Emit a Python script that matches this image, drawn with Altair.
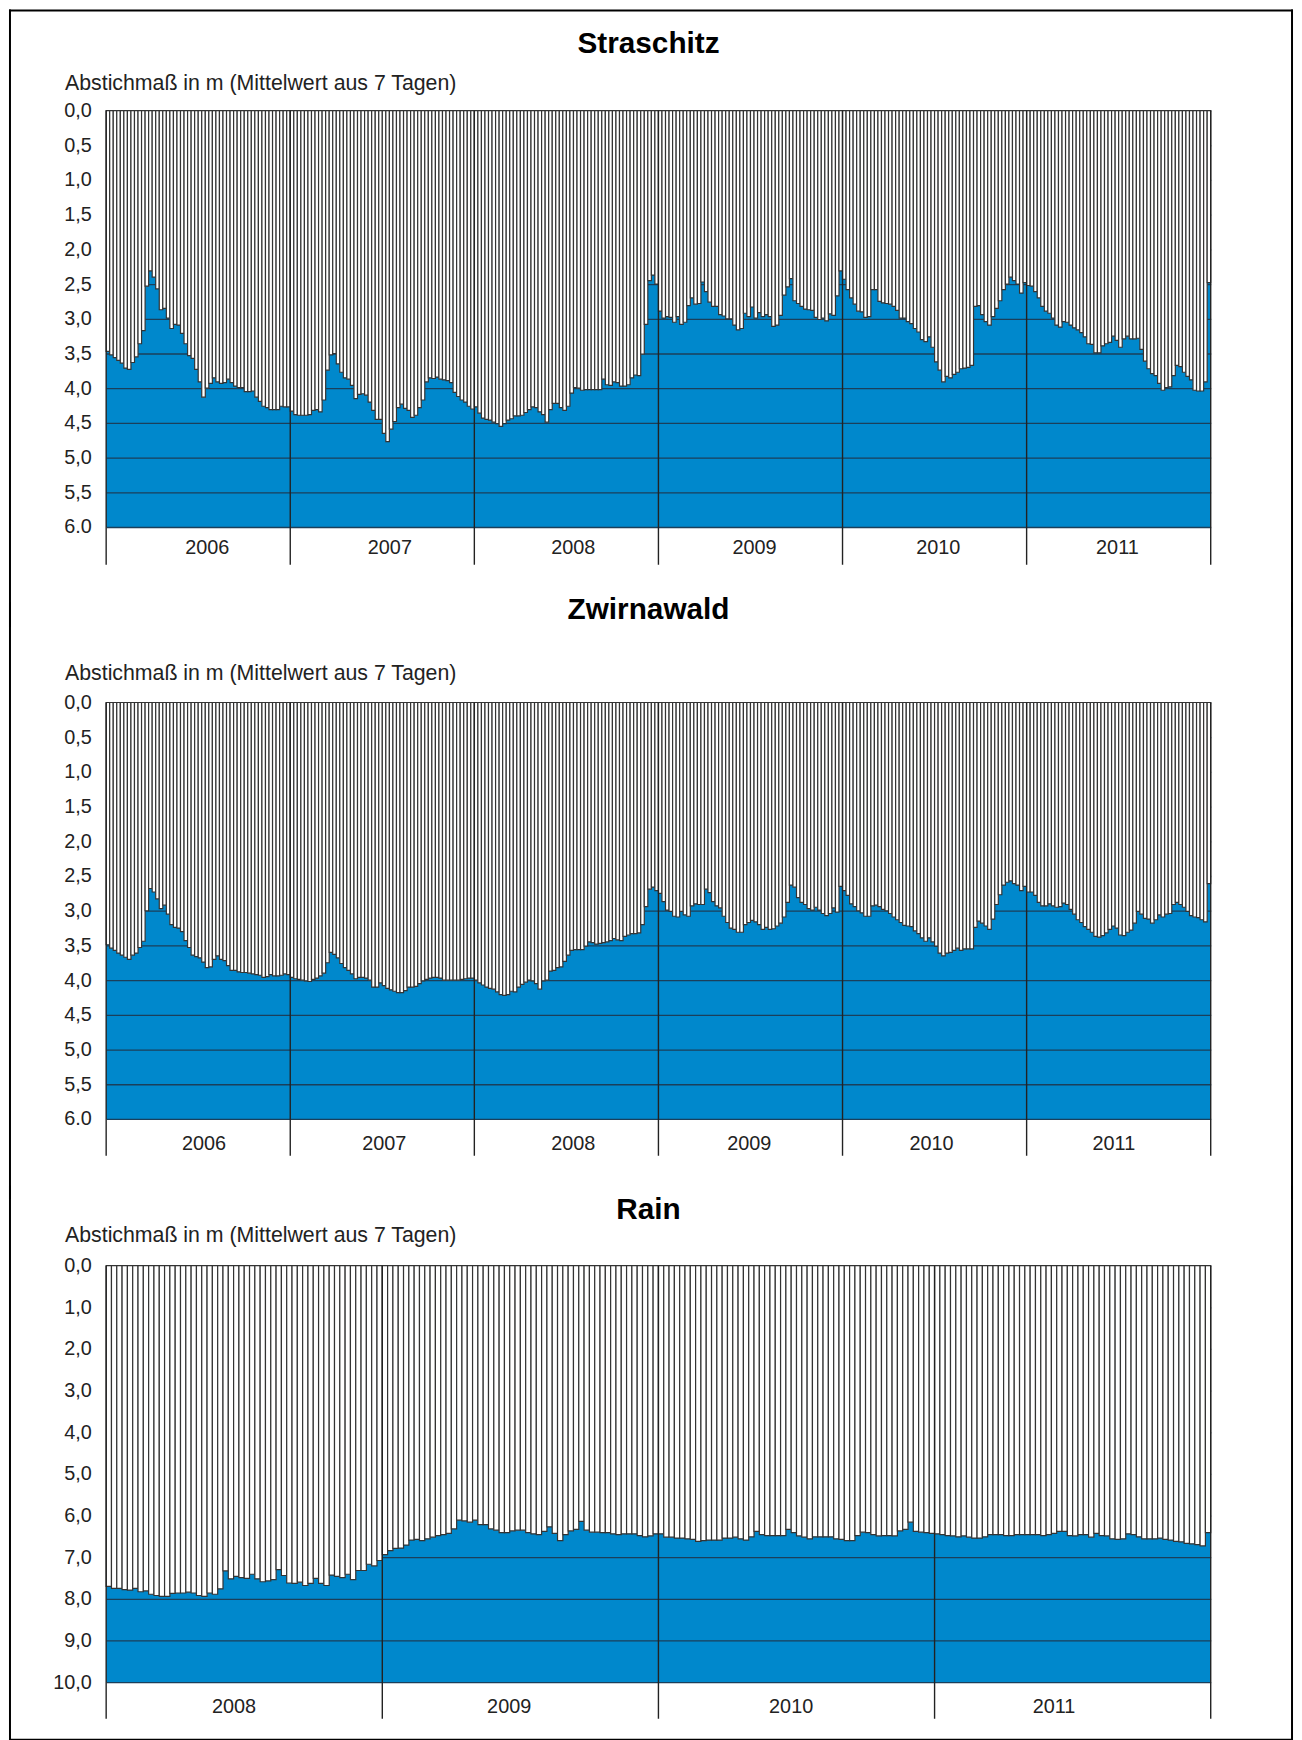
import altair as alt
import pandas as pd

BLUE = "#0088cc"
FONT = "Liberation Sans"
TEXT = "#222222"
Y_TITLE = "Abstichmaß in m (Mittelwert aus 7 Tagen)"

# ---------------- Straschitz (weekly means, m) ----------------
stra_2006 = [3.47,3.52,3.56,3.60,3.64,3.71,3.73,3.63,3.55,3.36, 3.17,2.53,2.31,2.40,2.57,2.87,2.85,2.99,3.14,3.08,
             3.09,3.21,3.36,3.53,3.57,3.73,3.91,4.13,4.00,3.93, 3.85,3.91,3.93,3.92,3.87,3.92,3.97,3.99,3.99,4.05,
             4.05,4.04,4.13,4.19,4.26,4.28,4.31,4.31,4.31,4.26, 4.27,4.27]
stra_2007 = [4.33,4.38,4.39,4.39,4.39,4.38,4.32,4.31,4.34,4.17, 3.74,3.52,3.50,3.65,3.77,3.85,3.87,3.96,4.15,4.09,
             4.08,4.10,4.20,4.32,4.45,4.45,4.65,4.77,4.59,4.48, 4.28,4.23,4.29,4.32,4.42,4.39,4.28,4.17,3.91,3.85,
             3.86,3.84,3.87,3.88,3.89,3.92,4.06,4.12,4.17,4.20, 4.26,4.30]
stra_2008 = [4.27,4.36,4.43,4.45,4.46,4.49,4.51,4.55,4.51,4.46, 4.44,4.40,4.40,4.39,4.35,4.31,4.27,4.28,4.34,4.38,
             4.49,4.31,4.22,4.22,4.28,4.32,4.26,4.07,3.99,4.00, 4.03,4.02,4.02,4.02,4.02,4.02,3.87,3.95,3.96,3.91,
             3.92,3.97,3.97,3.95,3.85,3.81,3.82,3.51,3.08,2.45, 2.37,2.50]
stra_2009 = [2.89,2.99,2.97,2.98,3.05,2.97,3.08,3.05,2.81,2.70, 2.79,2.78,2.47,2.61,2.76,2.82,2.82,2.94,2.96,3.00,
             3.00,3.09,3.16,3.14,2.92,2.97,2.83,2.99,2.91,2.97, 2.94,2.97,3.11,3.09,2.95,2.66,2.54,2.42,2.74,2.78,
             2.82,2.86,2.87,2.88,2.98,3.01,2.99,3.03,2.93,2.95, 2.67,2.31]
stra_2010 = [2.43,2.58,2.70,2.79,2.89,2.90,2.98,2.97,2.58,2.58, 2.75,2.77,2.78,2.79,2.82,2.88,2.99,2.99,3.04,3.07,
             3.14,3.19,3.30,3.33,3.26,3.41,3.62,3.74,3.91,3.83, 3.85,3.80,3.77,3.72,3.71,3.70,3.67,2.82,2.81,2.94,
             3.04,3.09,2.97,2.85,2.74,2.58,2.50,2.40,2.45,2.50, 2.63,2.48]
stra_2011 = [2.52,2.53,2.61,2.70,2.82,2.89,2.92,2.99,3.09,3.12, 3.04,3.05,3.09,3.13,3.16,3.20,3.26,3.36,3.37,3.49,
             3.49,3.39,3.36,3.34,3.25,3.31,3.41,3.29,3.25,3.29, 3.29,3.28,3.44,3.61,3.72,3.79,3.82,3.93,4.03,3.99,
             3.98,3.82,3.67,3.69,3.77,3.83,3.88,4.03,4.04,4.04, 3.91,2.48]

# ---------------- Zwirnawald ----------------
zw_2006 = [3.49,3.54,3.57,3.61,3.64,3.67,3.70,3.64,3.61,3.53, 3.44,3.00,2.68,2.73,2.83,2.97,2.92,3.05,3.20,3.24,
           3.25,3.30,3.43,3.53,3.64,3.66,3.68,3.74,3.82,3.81, 3.70,3.65,3.70,3.72,3.79,3.86,3.86,3.88,3.89,3.89,
           3.90,3.91,3.92,3.93,3.96,3.95,3.92,3.94,3.94,3.93, 3.91,3.92]
zw_2007 = [3.96,3.98,3.99,4.00,4.01,4.02,3.99,3.97,3.94,3.90, 3.75,3.60,3.63,3.68,3.76,3.82,3.86,3.91,3.98,3.96,
           3.96,3.97,4.00,4.10,4.10,4.04,4.08,4.12,4.14,4.16, 4.18,4.18,4.15,4.10,4.10,4.09,4.05,4.01,3.99,3.97,
           3.96,3.96,3.97,4.00,4.00,4.00,4.00,4.00,3.99,3.98, 3.97,3.97]
zw_2008 = [4.00,4.04,4.07,4.10,4.12,4.13,4.17,4.21,4.22,4.21, 4.16,4.17,4.10,4.06,4.03,4.00,4.01,4.05,4.13,4.01,
           4.00,3.87,3.86,3.82,3.81,3.73,3.64,3.57,3.56,3.56, 3.56,3.51,3.45,3.46,3.48,3.47,3.46,3.45,3.43,3.40,
           3.42,3.43,3.37,3.35,3.33,3.33,3.32,3.20,2.94,2.69, 2.66,2.71]
zw_2009 = [2.75,2.87,2.99,3.01,3.08,3.09,3.01,3.06,3.08,2.93, 2.90,2.91,2.91,2.69,2.74,2.87,2.93,2.96,3.08,3.17,
           3.25,3.27,3.31,3.31,3.20,3.17,3.14,3.16,3.20,3.27, 3.24,3.27,3.26,3.22,3.18,3.09,2.88,2.63,2.66,2.81,
           2.88,2.91,2.97,2.99,2.95,2.99,3.04,3.07,3.04,2.96, 3.02,2.65]
zw_2010 = [2.71,2.78,2.90,2.94,3.00,3.03,3.08,3.08,2.93,2.92, 2.94,2.98,3.00,3.04,3.09,3.13,3.17,3.21,3.22,3.23,
           3.29,3.33,3.39,3.44,3.39,3.45,3.51,3.61,3.65,3.61, 3.60,3.57,3.54,3.57,3.55,3.55,3.55,3.24,3.15,3.18,
           3.22,3.27,3.12,2.91,2.77,2.63,2.59,2.57,2.61,2.63, 2.71,2.65]
zw_2011 = [2.73,2.73,2.78,2.88,2.93,2.93,2.90,2.93,2.95,2.94, 2.89,2.91,2.98,3.05,3.13,3.17,3.23,3.27,3.31,3.37,
           3.38,3.36,3.32,3.27,3.22,3.25,3.35,3.36,3.31,3.28, 3.18,3.01,3.05,3.11,3.12,3.18,3.13,3.06,3.09,3.05,
           3.04,2.91,2.88,2.91,2.95,3.01,3.07,3.09,3.10,3.13, 3.16,2.61]

# ---------------- Rain ----------------
rain_2008 = [7.70,7.75,7.75,7.78,7.79,7.75,7.83,7.81,7.89,7.92, 7.94,7.94,7.87,7.86,7.86,7.84,7.86,7.92,7.94,7.86,
             7.89,7.76,7.33,7.52,7.46,7.49,7.51,7.41,7.52,7.59, 7.57,7.54,7.30,7.44,7.62,7.63,7.60,7.68,7.63,7.51,
             7.63,7.68,7.43,7.46,7.49,7.41,7.54,7.32,7.32,7.17, 7.21,7.08]
rain_2009 = [6.94,6.84,6.79,6.78,6.71,6.59,6.57,6.60,6.56,6.52, 6.48,6.46,6.43,6.32,6.11,6.13,6.16,6.11,6.22,6.22,
             6.32,6.35,6.41,6.41,6.37,6.35,6.35,6.41,6.44,6.46, 6.38,6.27,6.43,6.60,6.46,6.37,6.33,6.14,6.35,6.40,
             6.40,6.41,6.41,6.44,6.46,6.44,6.44,6.44,6.48,6.51, 6.49,6.44]
rain_2010 = [6.44,6.52,6.52,6.54,6.54,6.56,6.57,6.62,6.60,6.59, 6.59,6.59,6.54,6.54,6.52,6.56,6.59,6.51,6.38,6.46,
             6.48,6.48,6.48,6.48,6.33,6.41,6.49,6.52,6.56,6.51, 6.51,6.51,6.51,6.56,6.57,6.60,6.60,6.48,6.40,6.41,
             6.46,6.49,6.48,6.48,6.49,6.37,6.33,6.16,6.38,6.40, 6.41,6.43]
rain_2011 = [6.44,6.46,6.48,6.49,6.51,6.49,6.52,6.54,6.54,6.51, 6.46,6.46,6.46,6.48,6.48,6.46,6.46,6.46,6.46,6.46,
             6.48,6.46,6.43,6.38,6.38,6.48,6.49,6.46,6.46,6.52, 6.43,6.48,6.49,6.56,6.57,6.56,6.44,6.46,6.51,6.56,
             6.56,6.56,6.54,6.57,6.59,6.62,6.63,6.67,6.68,6.70, 6.73,6.41]

straschitz = stra_2006 + stra_2007 + stra_2008 + stra_2009 + stra_2010 + stra_2011
zwirnawald = zw_2006 + zw_2007 + zw_2008 + zw_2009 + zw_2010 + zw_2011
rain = rain_2008 + rain_2009 + rain_2010 + rain_2011

# year-label positions (in weeks)
stra_label_pos = [28.4, 80.0, 131.8, 183.0, 234.9, 285.5]
zw_label_pos = [27.5, 78.4, 131.8, 181.5, 233.0, 284.5]
rain_label_pos = [24.0, 75.8, 128.9, 178.4]

W, H = 1114, 420
WEEKS = 52
LEFT_EDGE, RIGHT_EDGE = -97, W + 82


def panel(name, values, first_year, n_years, ymax, ystep, dot_last, label_pos,
          title_y, ytitle_y, top_ext, bot_ext, tick_len, xlabel_pad,
          top_border=False, bottom_border=False):
    n = n_years * WEEKS
    df = pd.DataFrame({
        "week": list(range(len(values))),
        "week_end": [i + 1 for i in range(len(values))],
        "zero": [0.0] * len(values),
        "depth": values,
    })
    years = pd.DataFrame({"b": [k * WEEKS for k in range(n_years + 1)]})

    xscale = alt.Scale(domain=[0, n], nice=False, zero=False)
    yscale = alt.Scale(domain=[0, ymax], reverse=True, nice=False, zero=False)

    nt = int(round(ymax / ystep))
    yvals = [round(k * ystep, 2) for k in range(nt + 1)]
    if dot_last:
        ylabel = (f"datum.value == {ymax} ? '{ymax:.1f}' : "
                  "replace(format(datum.value, '.1f'), '.', ',')")
    else:
        ylabel = "replace(format(datum.value, '.1f'), '.', ',')"

    xaxis = alt.Axis(
        values=label_pos,
        labelExpr=f"toString({first_year} + floor(datum.value / {WEEKS}))",
        ticks=False, tickSize=0, domain=False, grid=False, title=None,
        labelFont=FONT, labelFontSize=20, labelColor=TEXT,
        labelPadding=xlabel_pad, labelBaseline="top",
    )
    yaxis = alt.Axis(
        values=yvals, labelExpr=ylabel,
        ticks=False, tickSize=0, domain=False,
        grid=True, gridColor="#1b3f5a", gridWidth=1.3, gridOpacity=1,
        labelFont=FONT, labelFontSize=20, labelColor=TEXT, labelPadding=15,
        title=Y_TITLE, titleFont=FONT, titleFontSize=21.5, titleFontWeight="normal",
        titleColor=TEXT, titleAngle=0, titleAlign="left", titleBaseline="middle",
        titleX=-42, titleY=ytitle_y,
    )

    bars = alt.Chart(df).mark_bar(
        fill="white", stroke="#333333", strokeWidth=1.2
    ).encode(
        x=alt.X("week:Q", scale=xscale, axis=xaxis),
        x2="week_end:Q",
        y=alt.Y("zero:Q", scale=yscale, axis=yaxis),
        y2="depth:Q",
    )

    year_lines = alt.Chart(years).mark_rule(color="#222222", strokeWidth=1.4).encode(
        x=alt.X("b:Q", scale=xscale, axis=xaxis),
        y=alt.value(0),
        y2=alt.value(H + tick_len),
    )

    title = alt.Chart(pd.DataFrame({"name": [name]})).mark_text(
        font=FONT, fontSize=30, fontWeight="bold", color="black",
        align="center", baseline="middle",
    ).encode(text="name:N", x=alt.value(547), y=alt.value(title_y))

    frame = alt.Chart(pd.DataFrame({"f": [0]})).mark_rule(
        color="black", strokeWidth=2, strokeCap="square")
    layers = [
        bars, year_lines, title,
        frame.encode(x=alt.value(LEFT_EDGE), y=alt.value(-top_ext), y2=alt.value(H + bot_ext)),
        frame.encode(x=alt.value(RIGHT_EDGE), y=alt.value(-top_ext), y2=alt.value(H + bot_ext)),
    ]
    if top_border:
        layers.append(frame.encode(y=alt.value(-top_ext), x=alt.value(LEFT_EDGE), x2=alt.value(RIGHT_EDGE)))
    if bottom_border:
        layers.append(frame.encode(y=alt.value(H + bot_ext), x=alt.value(LEFT_EDGE), x2=alt.value(RIGHT_EDGE)))

    return alt.layer(*layers).properties(width=W, height=H)


p1 = panel("Straschitz", straschitz, 2006, 6, 6, 0.5, True, stra_label_pos,
           title_y=-67, ytitle_y=-27, top_ext=101, bot_ext=100, tick_len=38, xlabel_pad=11,
           top_border=True)
p2 = panel("Zwirnawald", zwirnawald, 2006, 6, 6, 0.5, True, zw_label_pos,
           title_y=-93, ytitle_y=-29, top_ext=100, bot_ext=80, tick_len=37, xlabel_pad=15)
p3 = panel("Rain", rain, 2008, 4, 10, 1.0, False, rain_label_pos,
           title_y=-56, ytitle_y=-30, top_ext=80, bot_ext=58, tick_len=37, xlabel_pad=15,
           bottom_border=True)

lower = alt.vconcat(p2, p3, spacing=148, bounds="flush")
chart = alt.vconcat(p1, lower, spacing=177, bounds="flush").properties(
    padding={"left": 0, "top": -7, "right": 0, "bottom": 0},
    background="white",
).configure_view(fill=BLUE, stroke=None)

chart.save("out.html", embed_options={"renderer": "svg", "actions": False})
